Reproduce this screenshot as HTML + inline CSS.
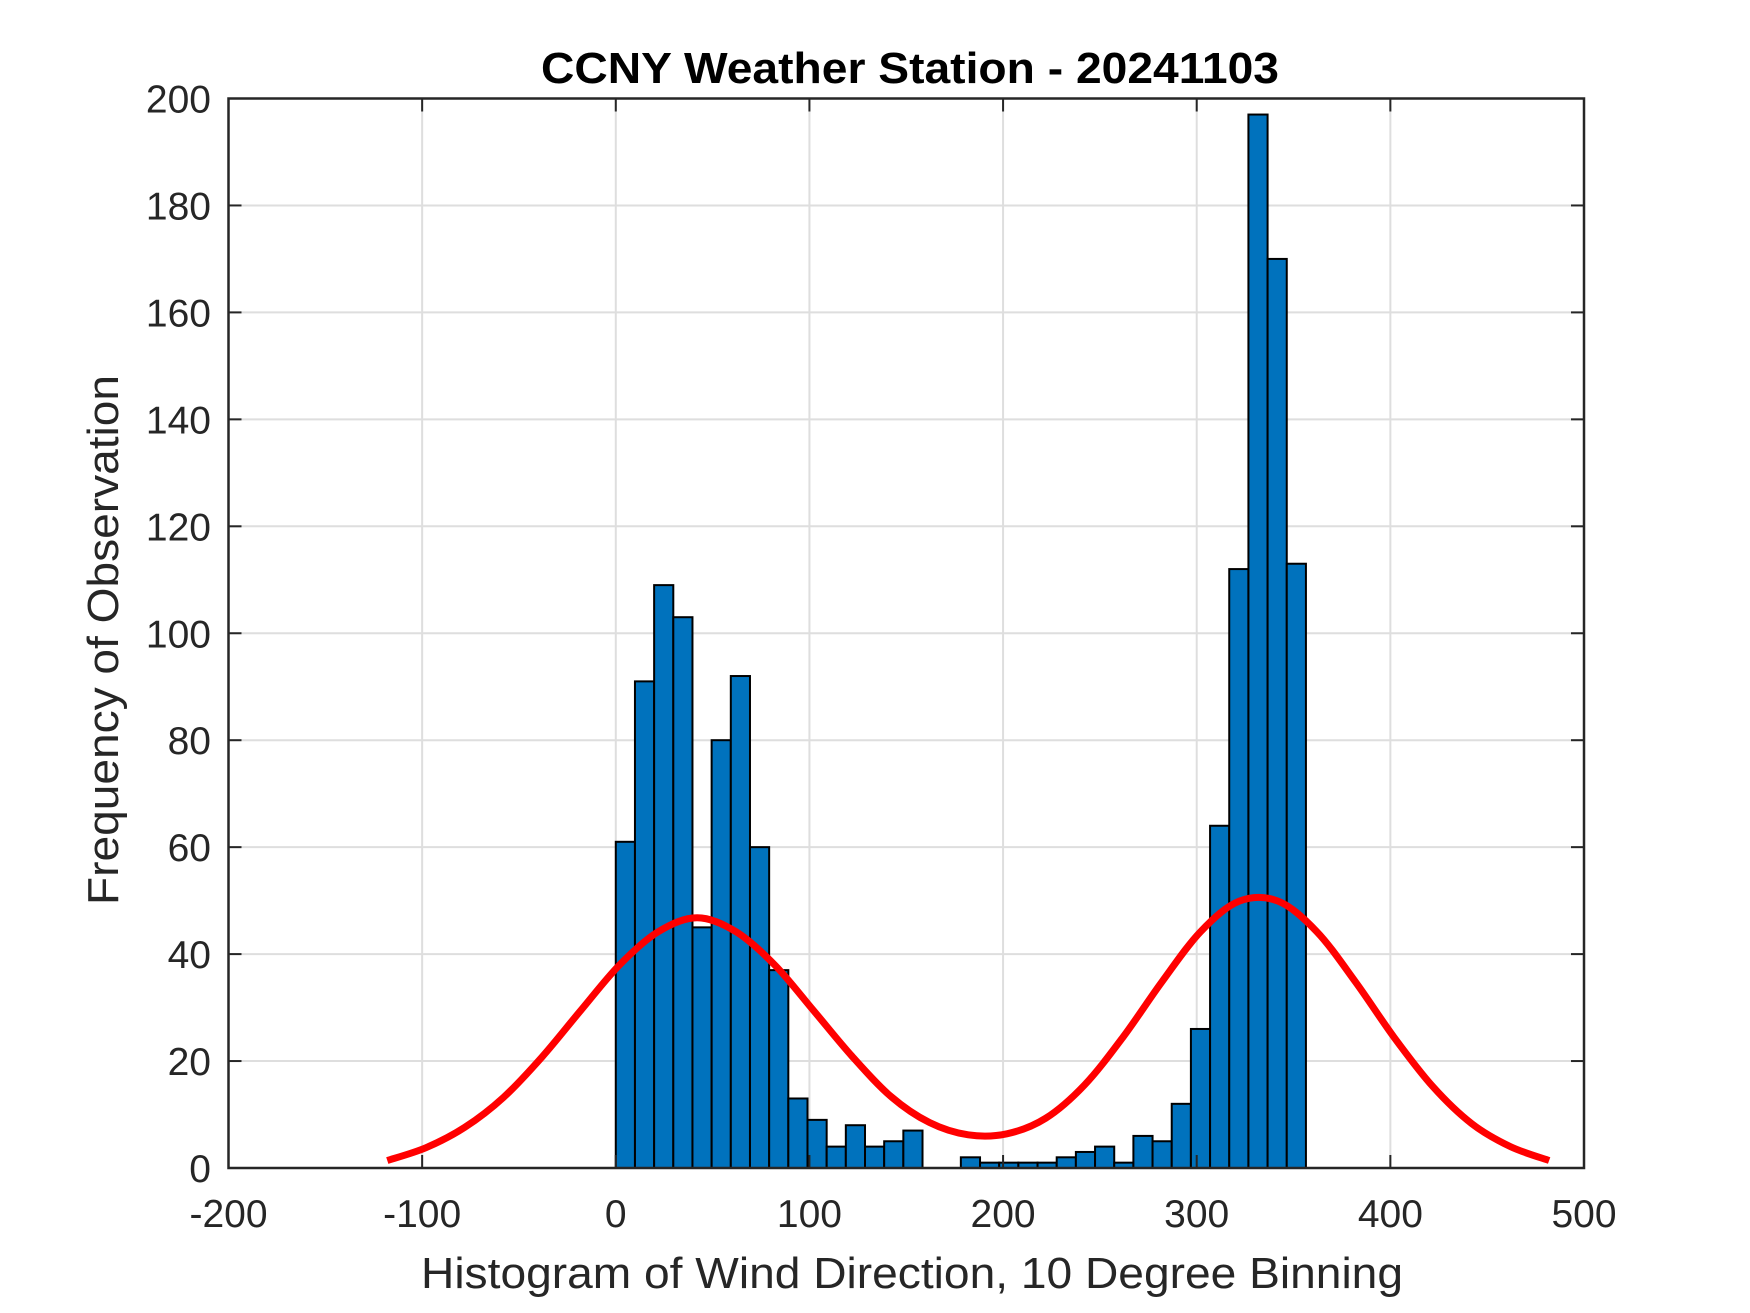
<!DOCTYPE html>
<html><head><meta charset="utf-8"><style>
html,body{margin:0;padding:0;background:#fff;}
svg{display:block;font-family:"Liberation Sans",Arial,sans-serif;}
</style></head><body>
<svg id="chart" width="1750" height="1313" viewBox="0 0 1750 1313">
<rect x="0" y="0" width="1750" height="1313" fill="#fff"/>
<g id="grid"></g>
<g id="bars"></g>
<g id="curve"></g>
<g id="axes"></g>
<text x="910" y="83" text-anchor="middle" font-size="44" font-weight="bold" fill="#000" textLength="738" lengthAdjust="spacingAndGlyphs">CCNY Weather Station - 20241103</text>
<text x="912" y="1288" text-anchor="middle" font-size="44" fill="#262626" textLength="982" lengthAdjust="spacingAndGlyphs">Histogram of Wind Direction, 10 Degree Binning</text>
<text transform="translate(118,640) rotate(-90)" text-anchor="middle" font-size="44" fill="#262626" textLength="530" lengthAdjust="spacingAndGlyphs">Frequency of Observation</text>
</svg>
<script>
const binStarts = [0,1,2,3,4,5,6,7,8,9,10,11,12,13,14,15,16,17,18,19,20,21,22,23,24,25,26,27,28,29,30,31,32,33,34,35];
const counts = [61,91,109,103,45,80,92,60,37,13,9,4,8,4,5,7,0,0,2,1,1,1,1,2,3,4,1,6,5,12,26,64,112,197,170,113];
const binWidth = 9.9;
const curveX = [-118,-98,-78,-58,-38,-18,2,22,42,62,82,102,122,142,162,182,202,222,242,262,282,302,322,342,362,382,402,422,442,462,482];
const curveY = [1.4,3.8,7.6,13.2,20.8,29.5,38.0,44.2,46.8,44.2,38.0,29.5,20.9,13.4,8.5,6.2,6.4,9.3,15.5,24.5,34.8,44.2,49.9,49.9,44.2,34.8,24.4,15.2,8.3,4.0,1.4];
const xTicks = [-200,-100,0,100,200,300,400,500];
const yTicks = [0,20,40,60,80,100,120,140,160,180,200];

const L=228.5,R=1584,T=98.5,B=1168;
const xMin=-200,xMax=500,yMin=0,yMax=200;
function sx(v){return L+(v-xMin)/(xMax-xMin)*(R-L);}
function sy(v){return B-(v-yMin)/(yMax-yMin)*(B-T);}
const NS="http://www.w3.org/2000/svg";
function mk(tag,attrs,parent){const e=document.createElementNS(NS,tag);for(const k in attrs)e.setAttribute(k,attrs[k]);parent.appendChild(e);return e;}
const grid=document.getElementById('grid'),bars=document.getElementById('bars'),curve=document.getElementById('curve'),axes=document.getElementById('axes');

xTicks.forEach(t=>{
  const x=sx(t);
  if(t>xMin&&t<xMax){
    const g=mk('line',{x1:x,x2:x,y1:T,y2:B,stroke:'#dedede','stroke-width':2},grid);
    
    
    const a=mk('line',{x1:x,x2:x,y1:B,y2:B-13,stroke:'#262626','stroke-width':2},axes);
    
    
    const b=mk('line',{x1:x,x2:x,y1:T,y2:T+13,stroke:'#262626','stroke-width':2},axes);
    
    
  }
  const tx=mk('text',{x:x,y:1227,'text-anchor':'middle','font-size':39,fill:'#262626'},axes);
  tx.textContent=String(t);
  
  
});
yTicks.forEach(t=>{
  const y=sy(t);
  if(t>yMin&&t<yMax){
    const g=mk('line',{x1:L,x2:R,y1:y,y2:y,stroke:'#dedede','stroke-width':2},grid);
    
    
    const a=mk('line',{x1:L,x2:L+13,y1:y,y2:y,stroke:'#262626','stroke-width':2},axes);
    
    
    const b=mk('line',{x1:R,x2:R-13,y1:y,y2:y,stroke:'#262626','stroke-width':2},axes);
    
    
  }
  const tx=mk('text',{x:211,y:y+14,'text-anchor':'end','font-size':39,fill:'#262626'},axes);
  tx.textContent=String(t);
  
  
});

binStarts.forEach((b,i)=>{
  const x0=sx(b*binWidth),x1=sx((b+1)*binWidth),y=sy(counts[i]);
  const r=mk('rect',{x:x0,y:y,width:x1-x0,height:Math.max(0,B-y),fill:'#0072BD',stroke:'#000','stroke-width':2},bars);
  
  
});

const pts=curveX.map((v,i)=>[sx(v),sy(curveY[i])]);
let d='M'+pts[0][0]+','+pts[0][1];
for(let i=0;i<pts.length-1;i++){
  const p0=pts[Math.max(0,i-1)],p1=pts[i],p2=pts[i+1],p3=pts[Math.min(pts.length-1,i+2)];
  const c1=[p1[0]+(p2[0]-p0[0])/6,p1[1]+(p2[1]-p0[1])/6];
  const c2=[p2[0]-(p3[0]-p1[0])/6,p2[1]-(p3[1]-p1[1])/6];
  d+=' C'+c1[0]+','+c1[1]+' '+c2[0]+','+c2[1]+' '+p2[0]+','+p2[1];
}
const cp=mk('path',{d:d,fill:'none',stroke:'#ff0000','stroke-width':7,'stroke-linejoin':'round'},curve);



const box=mk('rect',{x:L,y:T,width:R-L,height:B-T,fill:'none',stroke:'#262626','stroke-width':2.5},axes);


</script>
</body></html>
